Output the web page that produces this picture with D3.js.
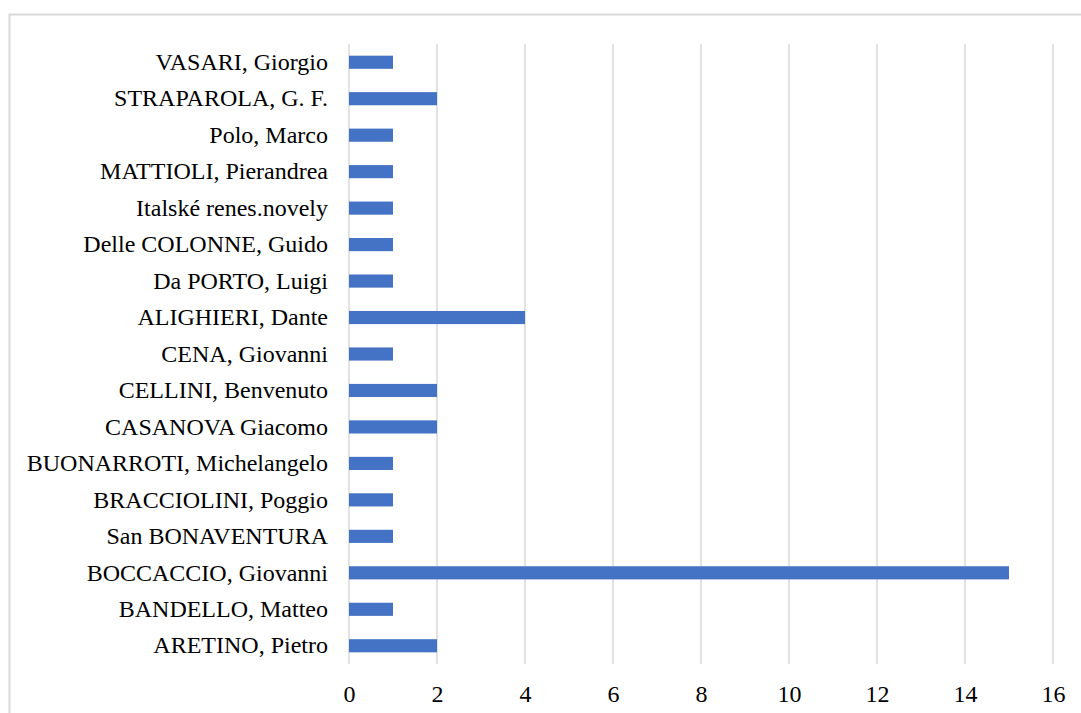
<!DOCTYPE html>
<html>
<head>
<meta charset="utf-8">
<script src="https://cdn.jsdelivr.net/npm/d3@7"></script>
<style>
  body { margin: 0; background: #fff; }
  svg { display: block; }
  #chart text { font-family: "Times New Roman", "Liberation Serif", Times, serif !important; font-size: 24px; fill: #000; }
</style>
</head>
<body>
<svg id="chart" width="1081" height="713"></svg>
<script>
// categories listed bottom to top, as in the picture
var authors = [
  "ARETINO, Pietro",
  "BANDELLO, Matteo",
  "BOCCACCIO, Giovanni",
  "San BONAVENTURA",
  "BRACCIOLINI, Poggio",
  "BUONARROTI, Michelangelo",
  "CASANOVA Giacomo",
  "CELLINI, Benvenuto",
  "CENA, Giovanni",
  "ALIGHIERI, Dante",
  "Da PORTO, Luigi",
  "Delle COLONNE, Guido",
  "Italské renes.novely",
  "MATTIOLI, Pierandrea",
  "Polo, Marco",
  "STRAPAROLA, G. F.",
  "VASARI, Giorgio"
];
var counts = [2, 1, 15, 1, 1, 1, 2, 2, 1, 4, 1, 1, 1, 1, 1, 2, 1];
var xTicks = [0, 2, 4, 6, 8, 10, 12, 14, 16];

var svg = d3.select("#chart");
var plotL = 349, plotR = 1053, plotT = 44, plotB = 664;

// outer chart border (runs off the right and bottom of the picture)
svg.append("rect")
  .attr("x", 9.5).attr("y", 14.5)
  .attr("width", 1200).attr("height", 800)
  .style("fill", "none").style("stroke", "#d9d9d9").style("stroke-width", 2);

var x = d3.scaleLinear().domain([0, 16]).range([plotL, plotR]);
var y = d3.scaleBand().domain(authors.slice().reverse()).range([plotT, plotB]).paddingInner(0.64).paddingOuter(0.32);

svg.append("g").selectAll("line").data(xTicks).enter().append("line")
  .attr("x1", d => x(d)).attr("x2", d => x(d))
  .attr("y1", plotT).attr("y2", plotB)
  .style("stroke", "#d9d9d9").style("stroke-width", 1.5);

svg.append("g").selectAll("rect").data(authors).enter().append("rect")
  .attr("x", x(0))
  .attr("y", d => y(d))
  .attr("width", (d, i) => x(counts[i]) - x(0))
  .attr("height", y.bandwidth())
  .style("fill", "#4472c4");

var yAxis = svg.append("g").attr("transform", "translate(" + plotL + ",0)")
  .call(d3.axisLeft(y).tickSize(0).tickPadding(21));
yAxis.attr("font-family", null).attr("font-size", null);
yAxis.select(".domain").remove();
yAxis.selectAll("text").attr("dy", "0.32em");

var xAxis = svg.append("g").attr("transform", "translate(0," + plotB + ")")
  .call(d3.axisBottom(x).tickValues(xTicks).tickSize(0).tickPadding(21));
xAxis.attr("font-family", null).attr("font-size", null);
xAxis.select(".domain").remove();
</script>
</body>
</html>
